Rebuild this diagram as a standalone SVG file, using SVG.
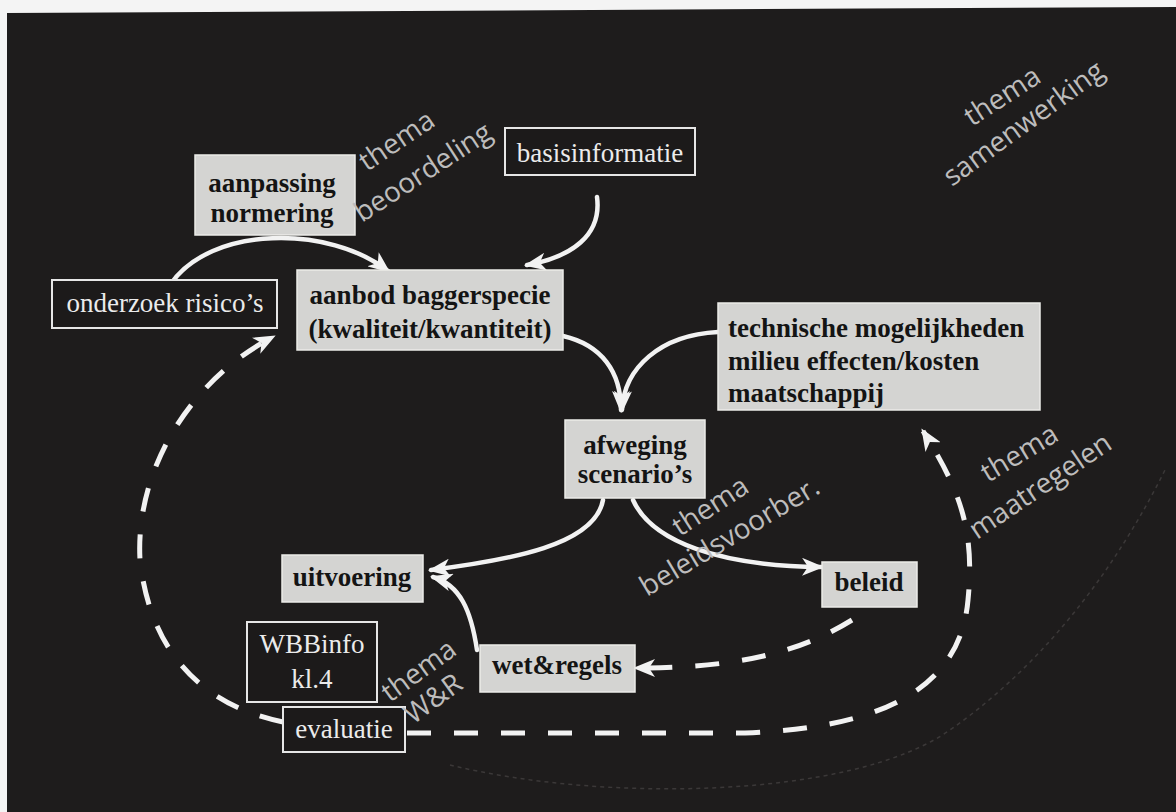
<svg xmlns="http://www.w3.org/2000/svg" width="1176" height="812" viewBox="0 0 1176 812">
<defs>
<style>
.gbox{fill:#d4d4d2;stroke:#ecebe8;stroke-width:1.5}
.obox{fill:#1c1a1a;stroke:#e6e6e6;stroke-width:2}
.bt{font-family:"Liberation Serif",serif;font-weight:bold;font-size:27px;fill:#141414;text-anchor:middle}
.ot{font-family:"Liberation Serif",serif;font-size:27px;fill:#ebebeb;text-anchor:middle}
.th{font-family:"Open Sans","DejaVu Sans",sans-serif;font-size:28px;fill:#bdbcbc}
.arr{fill:none;stroke:#f2f2f2;stroke-width:4.5;stroke-linecap:round}
.dash{fill:none;stroke:#f2f2f2;stroke-width:5;stroke-dasharray:24 23}
</style>
<marker id="ah" viewBox="0 0 22 18" refX="19" refY="9" markerWidth="22" markerHeight="18" orient="auto" markerUnits="userSpaceOnUse">
<path d="M0,0 L22,9 L0,18 L6,9 z" fill="#f2f2f2"/>
</marker>
</defs>
<rect x="0" y="0" width="1176" height="812" fill="#f4f4f4"/>
<polygon points="7,13 1176,7 1176,812 7,812" fill="#1e1c1c"/>
<path d="M450,765 C 600,802 850,800 950,730 C 1050,660 1120,560 1165,470" fill="none" stroke="#3b3838" stroke-width="1.5" stroke-dasharray="4 4"/>

<g id="connectors">
<path class="arr" d="M170,285 C 210,225 330,225 388,271" marker-end="url(#ah)"/>
<path class="arr" d="M597,197 C 602,235 572,257 527,265" marker-end="url(#ah)"/>
<path class="arr" d="M563,336 C 602,345 621,372 621,410" marker-end="url(#ah)"/>
<path class="arr" d="M718,332 C 660,335 624,368 622,410" marker-end="url(#ah)"/>
<path class="arr" d="M603,500 C 595,545 510,560 431,570" marker-end="url(#ah)"/>
<path class="arr" d="M633,500 C 652,542 720,566 821,567" marker-end="url(#ah)"/>
<path class="arr" d="M477,650 C 471,610 460,585 433,577" marker-end="url(#ah)"/>
<path class="dash" d="M283,722 C 200,705 150,650 140,560 C 135,470 190,380 273,337" marker-end="url(#ah)"/>
<path class="dash" d="M407,733 L745,733 C 880,728 960,690 968,600 C 975,530 960,490 923,431" marker-end="url(#ah)"/>
<path class="dash" d="M852,620 C 800,652 740,668 636,668" marker-end="url(#ah)"/>
</g>

<g id="aanpassing">
<rect class="gbox" x="195" y="155" width="160" height="80"/>
<text class="bt" x="272" y="192">aanpassing</text>
<text class="bt" x="272" y="222">normering</text>
</g>
<g id="basisinformatie">
<rect class="obox" x="505" y="128" width="190" height="47"/>
<text class="ot" x="600" y="162">basisinformatie</text>
</g>
<g id="onderzoek">
<rect class="obox" x="52" y="280" width="225" height="48"/>
<text class="ot" x="165" y="312">onderzoek risico’s</text>
</g>
<g id="aanbod">
<rect class="gbox" x="297" y="270" width="266" height="80"/>
<text class="bt" x="430" y="304">aanbod baggerspecie</text>
<text class="bt" x="430" y="338">(kwaliteit/kwantiteit)</text>
</g>
<g id="technische">
<rect class="gbox" x="718" y="303" width="322" height="107"/>
<text class="bt" x="728" y="337" style="text-anchor:start">technische mogelijkheden</text>
<text class="bt" x="728" y="370" style="text-anchor:start">milieu effecten/kosten</text>
<text class="bt" x="728" y="402" style="text-anchor:start">maatschappij</text>
</g>
<g id="afweging">
<rect class="gbox" x="565" y="420" width="140" height="78"/>
<text class="bt" x="635" y="454">afweging</text>
<text class="bt" x="635" y="483">scenario’s</text>
</g>
<g id="uitvoering">
<rect class="gbox" x="282" y="555" width="141" height="47"/>
<text class="bt" x="352" y="586">uitvoering</text>
</g>
<g id="beleid">
<rect class="gbox" x="822" y="562" width="95" height="45"/>
<text class="bt" x="869" y="591">beleid</text>
</g>
<g id="wetregels">
<rect class="gbox" x="480" y="645" width="155" height="47"/>
<text class="bt" x="557" y="674">wet&amp;regels</text>
</g>
<g id="wbbinfo">
<rect class="obox" x="247" y="622" width="130" height="80"/>
<text class="ot" x="312" y="653">WBBinfo</text>
<text class="ot" x="312" y="688">kl.4</text>
</g>
<g id="evaluatie">
<rect class="obox" x="283" y="707" width="122" height="45"/>
<text class="ot" x="344" y="738">evaluatie</text>
</g>

<g id="themes">
<text class="th" transform="translate(367,172) rotate(-34)">thema</text>
<text class="th" transform="translate(362,223) rotate(-33)">beoordeling</text>
<text class="th" transform="translate(972,127) rotate(-33)">thema</text>
<text class="th" transform="translate(952,187) rotate(-36)">samenwerking</text>
<text class="th" transform="translate(680,537) rotate(-33)">thema</text>
<text class="th" transform="translate(647,597) rotate(-31)">beleidsvoorber.</text>
<text class="th" transform="translate(988,483) rotate(-31)">thema</text>
<text class="th" transform="translate(977,540) rotate(-34)">maatregelen</text>
<text class="th" transform="translate(390,703) rotate(-36)">thema</text>
<text class="th" transform="translate(413,725) rotate(-36)">W&amp;R</text>
</g>
</svg>
